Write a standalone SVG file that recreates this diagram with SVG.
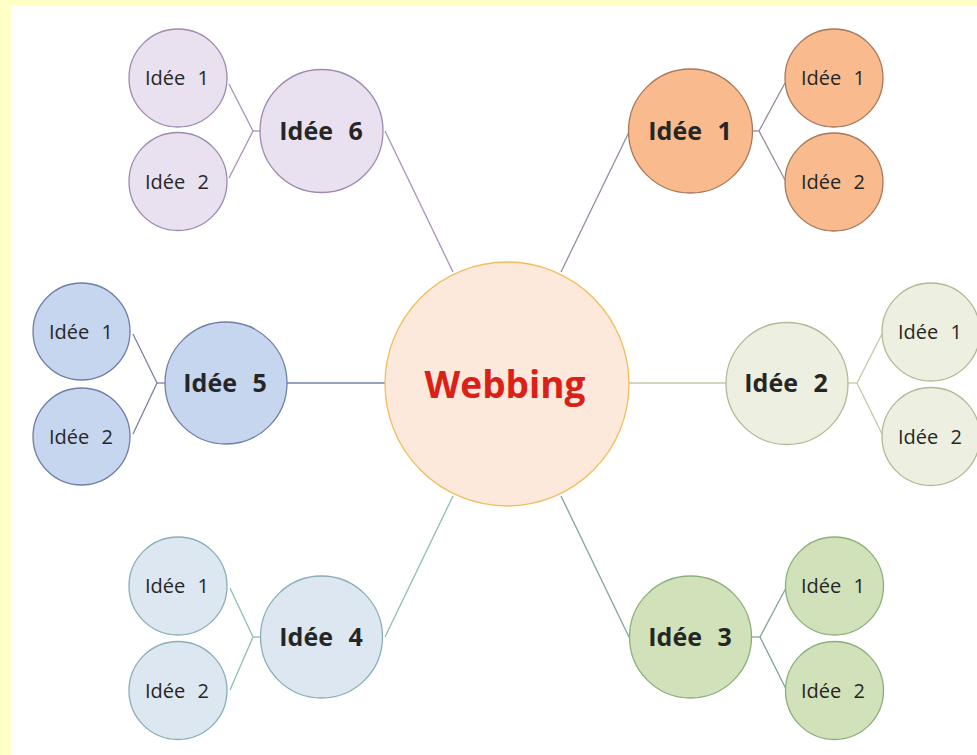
<svg xmlns="http://www.w3.org/2000/svg" width="977" height="755" viewBox="0 0 977 755">
<style>
text{font-family:"Open Sans","Noto Sans","Liberation Sans",sans-serif;text-anchor:middle;fill:#262626}
.main{font-size:25px;font-weight:bold;word-spacing:9px}
.sub{font-size:20px;word-spacing:7px}
.hub{font-size:37px;font-weight:bold;fill:#db2117}
circle{stroke-width:1.3}
line,polyline{fill:none;stroke-width:1.3}
.c6{fill:#e9e1ef;stroke:#9e8aae}
.c1{fill:#f9bb8d;stroke:#a7775a}
.c5{fill:#c6d6ef;stroke:#6f7ea6}
.c2{fill:#edf0e0;stroke:#b3b895}
.c4{fill:#dde7f1;stroke:#8aaeb6}
.c3{fill:#d1e2ba;stroke:#8caf7a}
.l6{stroke:#a892b8}
.l1{stroke:#9a8a9e}
.l5{stroke:#7a82a6}
.l2{stroke:#c6c8a6}
.l4{stroke:#8fbdb4}
.l3{stroke:#7fa891}
</style>
<rect x="0" y="0" width="977" height="755" fill="#ffffc6"/>
<rect x="11" y="5" width="966" height="750" fill="#ffffff"/>
<g id="connectors">
<line class="l6" x1="453" y1="272" x2="385" y2="131"/>
<line class="l1" x1="561" y1="272" x2="629" y2="132"/>
<line class="l5" x1="385" y1="383" x2="287" y2="383"/>
<line class="l2" x1="629" y1="383" x2="726" y2="383"/>
<line class="l4" x1="453" y1="496" x2="385" y2="637"/>
<line class="l3" x1="561" y1="496" x2="629" y2="637"/>
<polyline class="l6" points="229,84 253,131 229,178"/>
<line class="l6" x1="253" y1="131" x2="260" y2="131"/>
<polyline class="l1" points="785,83 759,131 785,180"/>
<line class="l1" x1="753" y1="131" x2="759" y2="131"/>
<polyline class="l5" points="133,334 157,383 133,434"/>
<line class="l5" x1="157" y1="383" x2="165" y2="383"/>
<polyline class="l2" points="882,334 857,383 882,434"/>
<line class="l2" x1="848" y1="383" x2="857" y2="383"/>
<polyline class="l4" points="230,588 253,637 230,690"/>
<line class="l4" x1="253" y1="637" x2="260" y2="637"/>
<polyline class="l3" points="786,588 760,637 786,689"/>
<line class="l3" x1="752" y1="637" x2="760" y2="637"/>
</g>
<g id="webbing">
<circle cx="507" cy="384" r="122" fill="#fde8dc" stroke="#efbf5c"/>
<text class="hub" x="505" y="398">Webbing</text>
</g>
<g id="idee6">
<circle class="c6" cx="321.5" cy="131" r="61.5"/>
<text class="main" x="321" y="140">Idée 6</text>
</g>
<g id="idee6-1"><circle class="c6" cx="178" cy="78" r="49"/><text class="sub" x="177" y="85">Idée 1</text></g>
<g id="idee6-2"><circle class="c6" cx="178" cy="181.5" r="49"/><text class="sub" x="177" y="189">Idée 2</text></g>
<g id="idee1">
<circle class="c1" cx="690.5" cy="131" r="62"/>
<text class="main" x="690" y="140">Idée 1</text>
</g>
<g id="idee1-1"><circle class="c1" cx="834" cy="78" r="49"/><text class="sub" x="833" y="85">Idée 1</text></g>
<g id="idee1-2"><circle class="c1" cx="834" cy="182" r="49"/><text class="sub" x="833" y="189">Idée 2</text></g>
<g id="idee5">
<circle class="c5" cx="226" cy="383" r="61"/>
<text class="main" x="225" y="392">Idée 5</text>
</g>
<g id="idee5-1"><circle class="c5" cx="81.5" cy="331.5" r="48.5"/><text class="sub" x="81" y="339">Idée 1</text></g>
<g id="idee5-2"><circle class="c5" cx="81.5" cy="436.5" r="48.5"/><text class="sub" x="81" y="444">Idée 2</text></g>
<g id="idee2">
<circle class="c2" cx="787" cy="383.5" r="61"/>
<text class="main" x="786" y="392">Idée 2</text>
</g>
<g id="idee2-1"><circle class="c2" cx="931" cy="332" r="49"/><text class="sub" x="930" y="339">Idée 1</text></g>
<g id="idee2-2"><circle class="c2" cx="931" cy="436.5" r="49"/><text class="sub" x="930" y="444">Idée 2</text></g>
<g id="idee4">
<circle class="c4" cx="321.5" cy="637" r="61"/>
<text class="main" x="321" y="646">Idée 4</text>
</g>
<g id="idee4-1"><circle class="c4" cx="178" cy="586" r="49"/><text class="sub" x="177" y="593">Idée 1</text></g>
<g id="idee4-2"><circle class="c4" cx="178" cy="690.5" r="49"/><text class="sub" x="177" y="698">Idée 2</text></g>
<g id="idee3">
<circle class="c3" cx="690.5" cy="637" r="61"/>
<text class="main" x="690" y="646">Idée 3</text>
</g>
<g id="idee3-1"><circle class="c3" cx="834.5" cy="586" r="49"/><text class="sub" x="833" y="593">Idée 1</text></g>
<g id="idee3-2"><circle class="c3" cx="834.5" cy="690.5" r="49"/><text class="sub" x="833" y="698">Idée 2</text></g>
</svg>
